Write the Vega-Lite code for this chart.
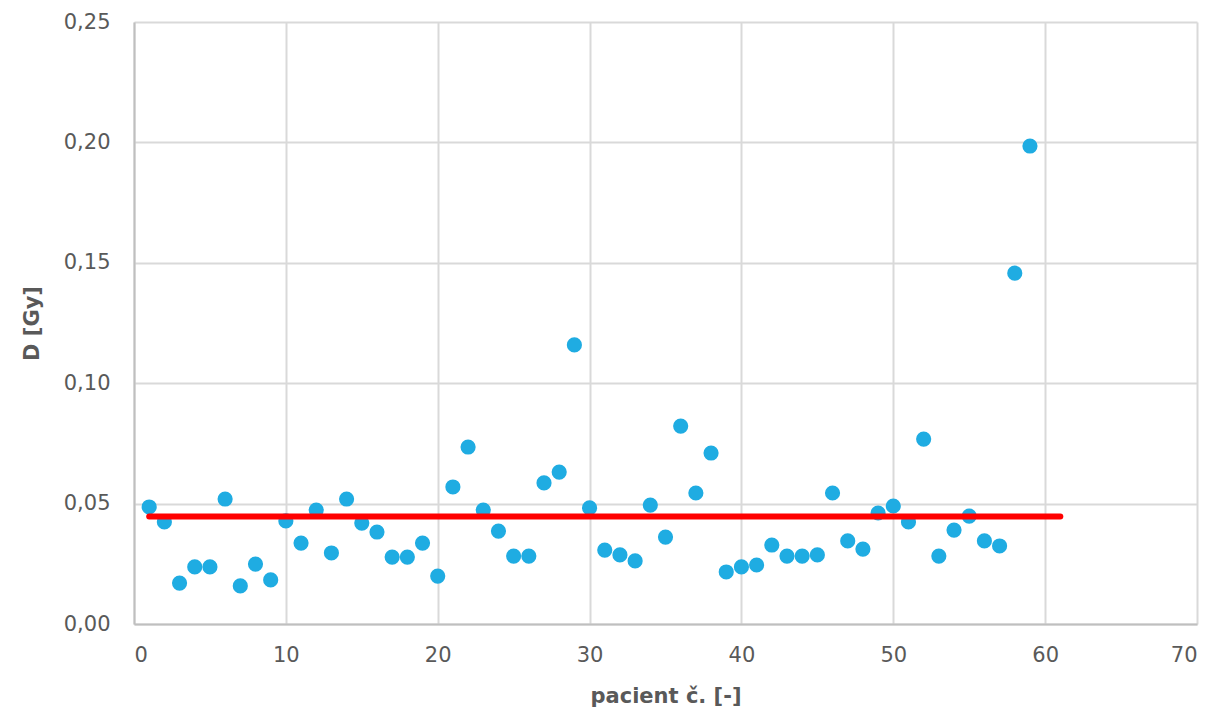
{
  "$schema": "https://vega.github.io/schema/vega-lite/v6.json",
  "autosize": {"type": "none"},
  "width": 1063,
  "height": 602,
  "padding": {"left": 134, "top": 22, "right": 19, "bottom": 90},
  "background": "white",
  "config": {
    "view": {"stroke": null},
    "font": "DejaVu Sans"
  },
  "datasets": {
    "points": [
      {"pacient": 1, "D": 0.0486}, {"pacient": 2, "D": 0.0424}, {"pacient": 3, "D": 0.0170},
      {"pacient": 4, "D": 0.0237}, {"pacient": 5, "D": 0.0237}, {"pacient": 6, "D": 0.0519},
      {"pacient": 7, "D": 0.0158}, {"pacient": 8, "D": 0.0249}, {"pacient": 9, "D": 0.0183},
      {"pacient": 10, "D": 0.0428}, {"pacient": 11, "D": 0.0336}, {"pacient": 12, "D": 0.0473},
      {"pacient": 13, "D": 0.0295}, {"pacient": 14, "D": 0.0519}, {"pacient": 15, "D": 0.0419},
      {"pacient": 16, "D": 0.0382}, {"pacient": 17, "D": 0.0278}, {"pacient": 18, "D": 0.0278},
      {"pacient": 19, "D": 0.0336}, {"pacient": 20, "D": 0.0199}, {"pacient": 21, "D": 0.0569},
      {"pacient": 22, "D": 0.0735}, {"pacient": 23, "D": 0.0473}, {"pacient": 24, "D": 0.0386},
      {"pacient": 25, "D": 0.0282}, {"pacient": 26, "D": 0.0282}, {"pacient": 27, "D": 0.0586},
      {"pacient": 28, "D": 0.0631}, {"pacient": 29, "D": 0.1159}, {"pacient": 30, "D": 0.0482},
      {"pacient": 31, "D": 0.0307}, {"pacient": 32, "D": 0.0287}, {"pacient": 33, "D": 0.0262},
      {"pacient": 34, "D": 0.0494}, {"pacient": 35, "D": 0.0361}, {"pacient": 36, "D": 0.0822},
      {"pacient": 37, "D": 0.0544}, {"pacient": 38, "D": 0.0710}, {"pacient": 39, "D": 0.0216},
      {"pacient": 40, "D": 0.0237}, {"pacient": 41, "D": 0.0245}, {"pacient": 42, "D": 0.0328},
      {"pacient": 43, "D": 0.0282}, {"pacient": 44, "D": 0.0282}, {"pacient": 45, "D": 0.0287},
      {"pacient": 46, "D": 0.0544}, {"pacient": 47, "D": 0.0345}, {"pacient": 48, "D": 0.0311},
      {"pacient": 49, "D": 0.0461}, {"pacient": 50, "D": 0.0490}, {"pacient": 51, "D": 0.0424},
      {"pacient": 52, "D": 0.0768}, {"pacient": 53, "D": 0.0282}, {"pacient": 54, "D": 0.0390},
      {"pacient": 55, "D": 0.0448}, {"pacient": 56, "D": 0.0345}, {"pacient": 57, "D": 0.0324},
      {"pacient": 58, "D": 0.1457}, {"pacient": 59, "D": 0.1985}
    ],
    "mean": [
      {"pacient": 1, "D": 0.0446},
      {"pacient": 61, "D": 0.0446}
    ]
  },
  "layer": [
    {
      "data": {"name": "points"},
      "mark": {"type": "circle", "size": 230, "color": "#1FACE2", "opacity": 1},
      "encoding": {
        "x": {
          "field": "pacient", "type": "quantitative",
          "scale": {"domain": [0, 70], "nice": false},
          "axis": {
            "values": [0, 10, 20, 30, 40, 50, 60, 70],
            "title": "pacient č. [-]",
            "titleFont": "DejaVu Sans", "titleFontSize": 21, "titleFontWeight": "bold",
            "titleColor": "#595959", "titlePadding": 20,
            "labelFont": "DejaVu Sans", "labelFontSize": 21, "labelColor": "#595959",
            "labelPadding": 20, "ticks": false,
            "domainColor": "#BFBFBF", "domainWidth": 2,
            "grid": true, "gridColor": "#D9D9D9", "gridWidth": 2
          }
        },
        "y": {
          "field": "D", "type": "quantitative",
          "scale": {"domain": [0, 0.25], "nice": false},
          "axis": {
            "values": [0, 0.05, 0.1, 0.15, 0.2, 0.25],
            "labelExpr": "replace(format(datum.value, '.2f'), '.', ',')",
            "title": "D [Gy]",
            "titleFont": "DejaVu Sans", "titleFontSize": 21, "titleFontWeight": "bold",
            "titleColor": "#595959", "titlePadding": 21,
            "labelFont": "DejaVu Sans", "labelFontSize": 21, "labelColor": "#595959",
            "labelPadding": 24, "ticks": false,
            "domainColor": "#BFBFBF", "domainWidth": 2,
            "grid": true, "gridColor": "#D9D9D9", "gridWidth": 2
          }
        }
      }
    },
    {
      "data": {"name": "mean"},
      "mark": {"type": "line", "color": "#FF0000", "strokeWidth": 6, "strokeCap": "round"},
      "encoding": {
        "x": {"field": "pacient", "type": "quantitative"},
        "y": {"field": "D", "type": "quantitative"}
      }
    }
  ]
}
